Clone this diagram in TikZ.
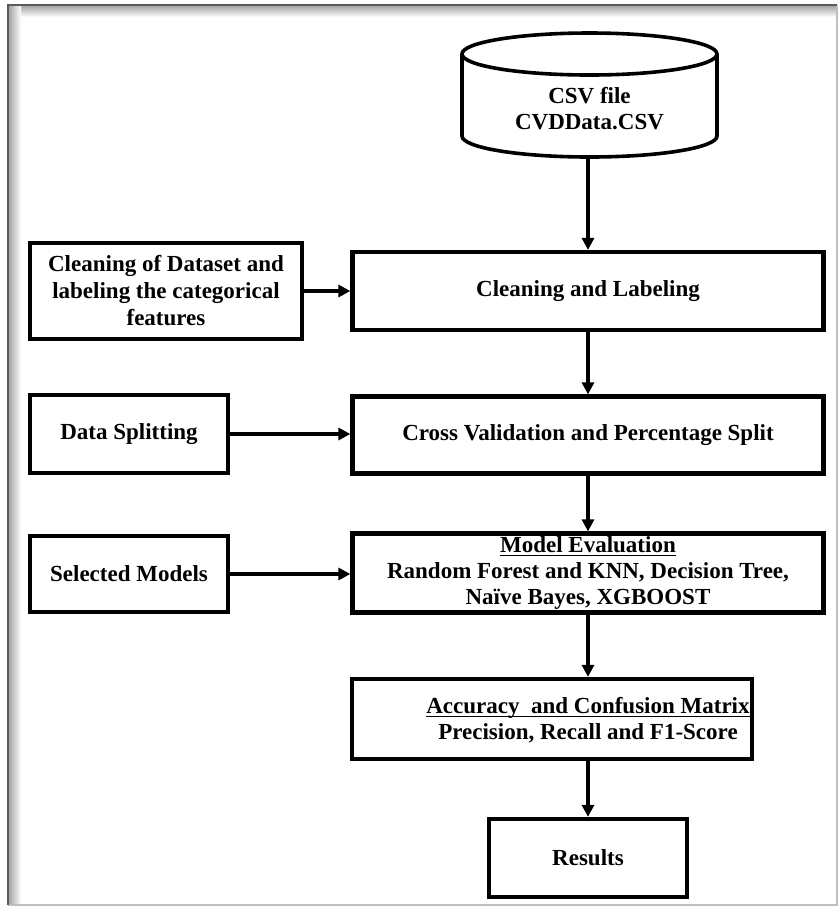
\documentclass[tikz,border=0pt]{standalone}
\usepackage{fontspec}
\setmainfont{Liberation Serif}
\usetikzlibrary{arrows.meta,calc,positioning}
\newcommand{\ulbox}[1]{\underline{\smash{#1}\vphantom{A}}}

\begin{document}
\begin{tikzpicture}[x=0.5pt,y=-0.5pt,
  box/.style={draw, line width=2.1pt, align=center, inner sep=0pt,
    font=\bfseries\fontsize{11.5}{13}\selectfont},
  txt/.style={align=center, inner sep=0pt, font=\bfseries\fontsize{11.5}{13}\selectfont},
  flow/.style={-{Triangle[length=6pt,width=6pt]}, line width=1.65pt}]
\useasboundingbox (0,0) rectangle (839,907);

% Frame with shadow
\shade[top color=gray!75, bottom color=white] (8,5) rectangle (837,17);
\shade[left color=gray!75, right color=white] (8,5) rectangle (21,905);
\draw[gray!50, line width=0.8pt] (837,5) -- (837,905) -- (8,905);
\draw[black!65, line width=1.3pt] (8,905) |- (837,5);

% Data source
\draw[line width=1.8pt, fill=white] (462,54) -- (462,136)
  arc[start angle=180, end angle=360, x radius=63.75pt, y radius=10.5pt] -- (717,54);
\draw[line width=1.8pt] (589.5,54) ellipse[x radius=63.75pt, y radius=10.5pt];
\node[txt] (csv) at (589.5,109) {CSV file\\CVDData.CSV};
\coordinate (csvbot) at (588,157);

% Main column
\node[box, minimum width=235.5pt, minimum height=39pt] (clean) at (588,291) {Cleaning and Labeling};
\node[box, minimum width=235.5pt, minimum height=38.5pt] (cv) at (588,435) {Cross Validation and Percentage Split};
\node[box, minimum width=235.5pt, minimum height=39.5pt] (eval) at (588,573)
  {\ulbox{Model Evaluation}\\Random Forest and KNN, Decision Tree,\\Naïve Bayes, XGBOOST};
\node[box, minimum width=200pt, minimum height=40pt] (acc) at (552,719) {};
\node[txt] (acctext) at (588,721) {\ulbox{Accuracy\ \ and Confusion Matrix}\\Precision, Recall and F1-Score};
\node[box, minimum width=99pt, minimum height=39pt] (res) at (588,858) {Results};

% Left column
\node[box, minimum width=136pt, minimum height=48pt, font=\bfseries\fontsize{11.5}{13.5}\selectfont] (prep) at (166,291)
  {Cleaning of Dataset and\\labeling the categorical\\features};
\node[box, minimum width=99pt, minimum height=39pt] (split) at (129,434) {Data Splitting};
\node[box, minimum width=99pt, minimum height=38pt] (models) at (129,574) {Selected Models};

% Arrows
\draw[flow] (csvbot) -- (clean);
\draw[flow] (prep) -- (clean);
\draw[flow] (clean) -- (cv);
\draw[flow] (split.east) -- (split.east -| cv.west);
\draw[flow] (cv) -- (eval);
\draw[flow] (models.east) -- (models.east -| eval.west);
\draw[flow] (eval.south) -- (eval.south |- acc.north);
\draw[flow] (acc.south -| res) -- (res);
\end{tikzpicture}
\end{document}
